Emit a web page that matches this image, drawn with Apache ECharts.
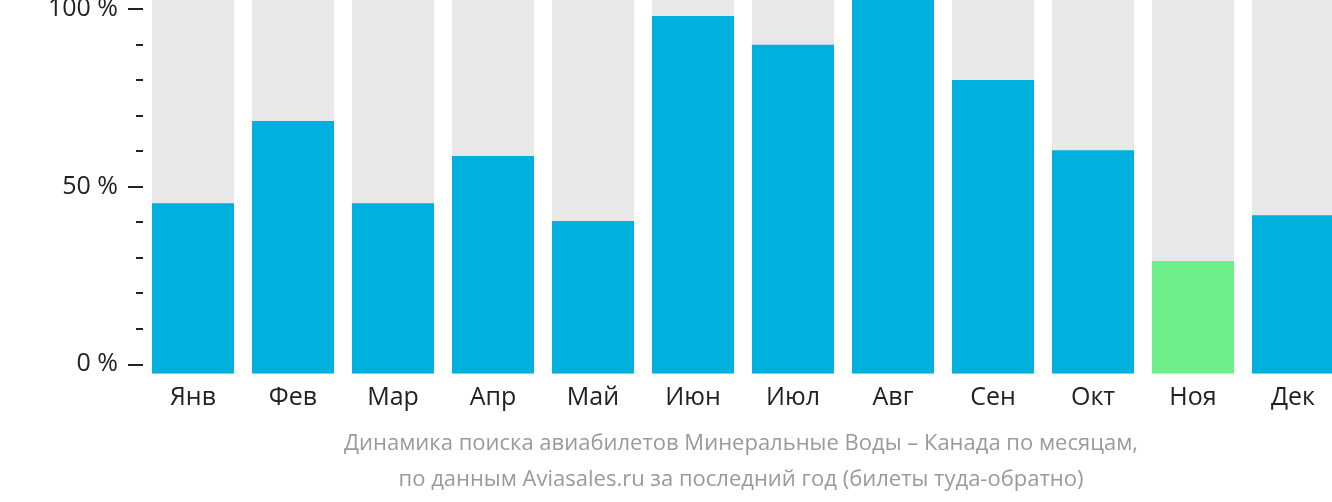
<!DOCTYPE html>
<html>
<head>
<meta charset="utf-8">
<script src="https://cdn.jsdelivr.net/npm/echarts@6/dist/echarts.min.js"></script>
<style>
html,body{margin:0;padding:0;background:#fff;}
#c{width:1332px;height:502px;}
</style>
</head>
<body>
<div id="c"></div>
<script>
const categories = ['Янв','Фев','Мар','Апр','Май','Июн','Июл','Авг','Сен','Окт','Ноя','Дек'];
const values = [45.6, 67.6, 45.6, 58.2, 40.8, 95.7, 88.0, 100, 78.6, 59.8, 30.1, 42.4];
const highlightIndex = 10;
const tickValues = [0, 50, 100];
const caption = ['Динамика поиска авиабилетов Минеральные Воды – Канада по месяцам,',
                 'по данным Aviasales.ru за последний год (билеты туда-обратно)'];

const FONT = '"Open Sans", "Noto Sans", sans-serif';
const chart = echarts.init(document.getElementById('c'), null, {renderer:'canvas'});
chart.setOption({
  animation: false,
  grid: [
    {left: 143, top: 0, width: 1200, height: 373.5, outerBoundsMode: 'none', containLabel: false},
    {left: 143, top: 8.7, width: 1200, height: 355.6, outerBoundsMode: 'none', containLabel: false}
  ],
  xAxis: [
    {type:'category', gridIndex:0, data: categories,
     axisLine:{show:false}, axisTick:{show:false},
     axisLabel:{color:'#222', fontSize:25, fontFamily:FONT, margin:12}},
    {type:'category', gridIndex:1, data: categories, show:false}
  ],
  yAxis: [
    {type:'value', gridIndex:0, min:0, max:100, show:false},
    {type:'value', gridIndex:1, min:0, max:100, interval:50,
     axisLine:{show:false}, splitLine:{show:false},
     axisTick:{show:true, length:15, lineStyle:{color:'#222', width:2}},
     axisLabel:{color:'#222', fontSize:25, fontFamily:FONT, margin:25,
       formatter: v => tickValues.includes(v) ? v + ' %' : ''}},
    {type:'value', gridIndex:1, min:0, max:100, interval:10, position:'left',
     axisLine:{show:false}, splitLine:{show:false}, axisLabel:{show:false},
     axisTick:{show:true, length:7, lineStyle:{color:'#222', width:2}}}
  ],
  series: [{
    type:'bar', xAxisIndex:0, yAxisIndex:0, barWidth:82,
    showBackground:true, backgroundStyle:{color:'#e8e8e8'},
    data: values.map((v,i)=>({value:v, itemStyle:{color: i===highlightIndex ? '#6df089' : '#00b1dd'}}))
  }],
  graphic: [
    {type:'text', x:741, y:444, style:{text:caption[0], fill:'#9a9a9a', font:'22px ' + FONT, align:'center', verticalAlign:'middle'}},
    {type:'text', x:741, y:480, style:{text:caption[1], fill:'#9a9a9a', font:'22px ' + FONT, align:'center', verticalAlign:'middle'}}
  ]
});
</script>
</body>
</html>
